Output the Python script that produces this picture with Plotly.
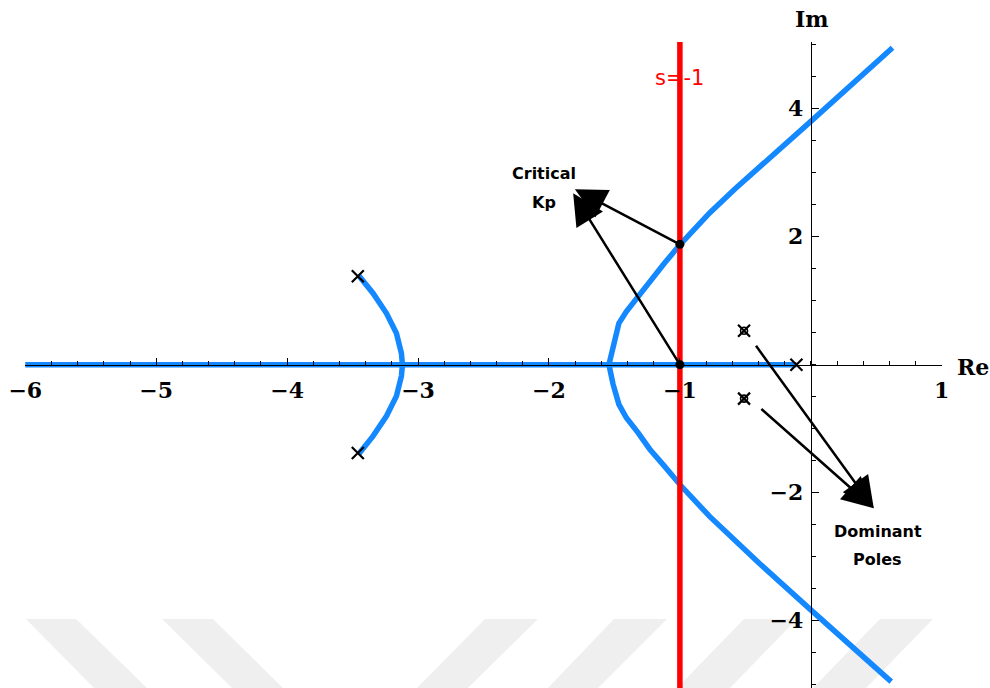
import plotly.graph_objects as go

# ---- root locus data (s-plane: real part, imaginary part) ----
real_axis_re = [-6.0, -0.11]
real_axis_im = [0.0, 0.0]

# branch leaving the complex pole pair near -3.46 ± 1.38j
arc_re = [-3.45, -3.344, -3.241, -3.165, -3.127, -3.119, -3.127, -3.165, -3.241, -3.344, -3.45]
arc_im = [1.386, 1.116, 0.803, 0.491, 0.178, 0.0, -0.178, -0.491, -0.803, -1.116, -1.386]

# asymptotic branches after the break-away point
upper_re = [-1.542, -1.511, -1.466, -1.409, -1.32, -1.23, -1.12, -0.997, -0.773, -0.58, -0.39, 0.0, 0.624]
upper_im = [0.0, 0.28, 0.647, 0.83, 1.06, 1.32, 1.58, 1.88, 2.37, 2.745, 3.10, 3.80, 4.95]
lower_re = [-1.542, -1.511, -1.466, -1.409, -1.32, -1.23, -1.12, -0.997, -0.773, -0.58, -0.39, 0.0, 0.614]
lower_im = [0.0, -0.30, -0.62, -0.83, -1.06, -1.32, -1.58, -1.88, -2.37, -2.75, -3.11, -3.83, -4.95]

# open-loop poles and dominant closed-loop poles
pole_re = [-3.46, -3.46, -0.11]
pole_im = [1.38, -1.38, 0.0]
dominant_re = [-0.51, -0.51]
dominant_im = [0.53, -0.53]

# points where the locus meets s = -1
critical_re = [-1.0, -1.0]
critical_im = [0.0, 1.88]
critical_tip_re = [-1.815, -1.802]
critical_tip_im = [2.678, 2.741]

dominant_tail_re = [-0.427, -0.389]
dominant_tail_im = [0.319, -0.672]
dominant_tip_re = [0.481, 0.481]
dominant_tip_im = [-2.244, -2.244]

shift_line = -1.0

x_ticks = [-6, -5, -4, -3, -2, -1, 1]
y_ticks = [-4, -2, 2, 4]

x_range = [-6.002, 1.002]
y_range = [-5.05, 5.04]

BLUE = "rgb(20,136,255)"
RED = "rgb(255,0,0)"

fig = go.Figure()

for xs, ys in [(real_axis_re, real_axis_im), (arc_re, arc_im),
               (upper_re, upper_im), (lower_re, lower_im)]:
    fig.add_trace(go.Scatter(x=xs, y=ys, mode="lines",
                             line=dict(color=BLUE, width=5.5),
                             hoverinfo="skip"))

# vertical line s = -1
fig.add_trace(go.Scatter(x=[shift_line, shift_line], y=[y_range[0] - 1, y_range[1] + 1],
                         mode="lines", line=dict(color=RED, width=5.5),
                         hoverinfo="skip"))

fig.add_trace(go.Scatter(x=pole_re, y=pole_im, mode="markers",
                         marker=dict(symbol="x-thin", size=12, color="black",
                                     line=dict(color="black", width=2.2))))
fig.add_trace(go.Scatter(x=dominant_re, y=dominant_im, mode="markers",
                         marker=dict(symbol="x-thin", size=12, color="black",
                                     line=dict(color="black", width=2.2))))
fig.add_trace(go.Scatter(x=dominant_re, y=dominant_im, mode="markers",
                         marker=dict(symbol="circle-open", size=7, color="black",
                                     line=dict(color="black", width=1.6))))
fig.add_trace(go.Scatter(x=critical_re, y=critical_im, mode="markers",
                         marker=dict(symbol="circle", size=9, color="black")))

annotations = []

def arrow(tail_x, tail_y, tip_x, tip_y):
    return dict(x=tip_x, y=tip_y, ax=tail_x, ay=tail_y,
                xref="x", yref="y", axref="x", ayref="y",
                text="", showarrow=True, arrowhead=2, arrowsize=2.5,
                arrowwidth=2.5, arrowcolor="black", standoff=0, startstandoff=0)

for i in range(len(critical_re)):
    annotations.append(arrow(critical_re[i], critical_im[i],
                             critical_tip_re[i], critical_tip_im[i]))
for i in range(len(dominant_tail_re)):
    annotations.append(arrow(dominant_tail_re[i], dominant_tail_im[i],
                             dominant_tip_re[i], dominant_tip_im[i]))

label_font = dict(family="DejaVu Sans", size=16, color="black", weight="bold")
for txt, x, y in [("Critical", -2.038, 2.98), ("Kp", -2.038, 2.53),
                  ("Dominant", 0.51, -2.61), ("Poles", 0.51, -3.05)]:
    annotations.append(dict(x=x, y=y, xref="x", yref="y", text=txt,
                            xanchor="center", yanchor="middle",
                            showarrow=False, font=label_font))

annotations.append(dict(x=shift_line, y=4.48, xref="x", yref="y", text="s=-1",
                        xanchor="center", yanchor="middle", showarrow=False,
                        font=dict(family="DejaVu Sans", size=21, color=RED)))

axis_font = dict(family="DejaVu Serif", size=22, color="black", weight="bold")
annotations.append(dict(x=1.0338, y=0.4969, xref="paper", yref="paper", text="Re",
                        xanchor="center", yanchor="middle",
                        showarrow=False, font=axis_font))
annotations.append(dict(x=0.8577, y=1.0356, xref="paper", yref="paper", text="Im",
                        xanchor="center", yanchor="middle",
                        showarrow=False, font=axis_font))

# faint diagonal bands along the bottom edge (pixel corners: top-left, top-right,
# bottom-right, bottom-left)
W, H = 990, 688
L_M, R_M, T_M, B_M = 25, 48, 42, 0
PW, PH = W - L_M - R_M, H - T_M - B_M
bands = [
    [(26, 619), (76, 619), (147, 688), (94, 688)],
    [(162, 619), (213, 619), (283, 688), (232, 688)],
    [(485, 619), (538, 619), (468, 688), (417, 688)],
    [(614, 619), (667, 619), (598, 688), (548, 688)],
    [(744, 619), (797, 619), (730, 688), (677, 688)],
    [(880, 619), (933, 619), (866, 688), (813, 688)],
]
shapes = []
for band in bands:
    pts = [((px - L_M) / PW, (H - py - B_M) / PH) for px, py in band]
    path = "M " + " L ".join(f"{a:.5f},{b:.5f}" for a, b in pts) + " Z"
    shapes.append(dict(type="path", path=path, xref="paper", yref="paper",
                       fillcolor="rgb(239,239,239)", line=dict(width=0),
                       layer="below"))

x_pos = (0 - y_range[0]) / (y_range[1] - y_range[0])
y_pos = (0 - x_range[0]) / (x_range[1] - x_range[0])

fig.update_layout(
    width=W, height=H,
    margin=dict(l=L_M, r=R_M, t=T_M, b=B_M, pad=0),
    paper_bgcolor="white", plot_bgcolor="white",
    showlegend=False,
    annotations=annotations,
    shapes=shapes,
    xaxis=dict(range=x_range, anchor="free", position=x_pos, side="bottom",
               showgrid=False, zeroline=False, showline=True,
               linecolor="black", linewidth=1.3,
               ticks="inside", ticklen=7, tickwidth=1.3, tickcolor="black",
               tickmode="array", tickvals=x_ticks,
               ticktext=[("\u2212" + str(-v)) if v < 0 else str(v) for v in x_ticks],
               tickfont=axis_font, ticklabelstandoff=6,
               minor=dict(ticks="inside", ticklen=4, tickwidth=1, tickcolor="black",
                          dtick=0.2, tick0=0, showgrid=False),
               automargin=False, fixedrange=True),
    yaxis=dict(range=y_range, anchor="free", position=y_pos, side="left",
               showgrid=False, zeroline=False, showline=True,
               linecolor="black", linewidth=1.3,
               ticks="inside", ticklen=7, tickwidth=1.3, tickcolor="black",
               tickmode="array", tickvals=y_ticks,
               ticktext=[("\u2212" + str(-v)) if v < 0 else str(v) for v in y_ticks],
               tickfont=axis_font, ticklabelstandoff=3,
               minor=dict(ticks="inside", ticklen=4, tickwidth=1, tickcolor="black",
                          dtick=0.5, tick0=0, showgrid=False),
               automargin=False, fixedrange=True),
)

fig.write_html("out.html")
